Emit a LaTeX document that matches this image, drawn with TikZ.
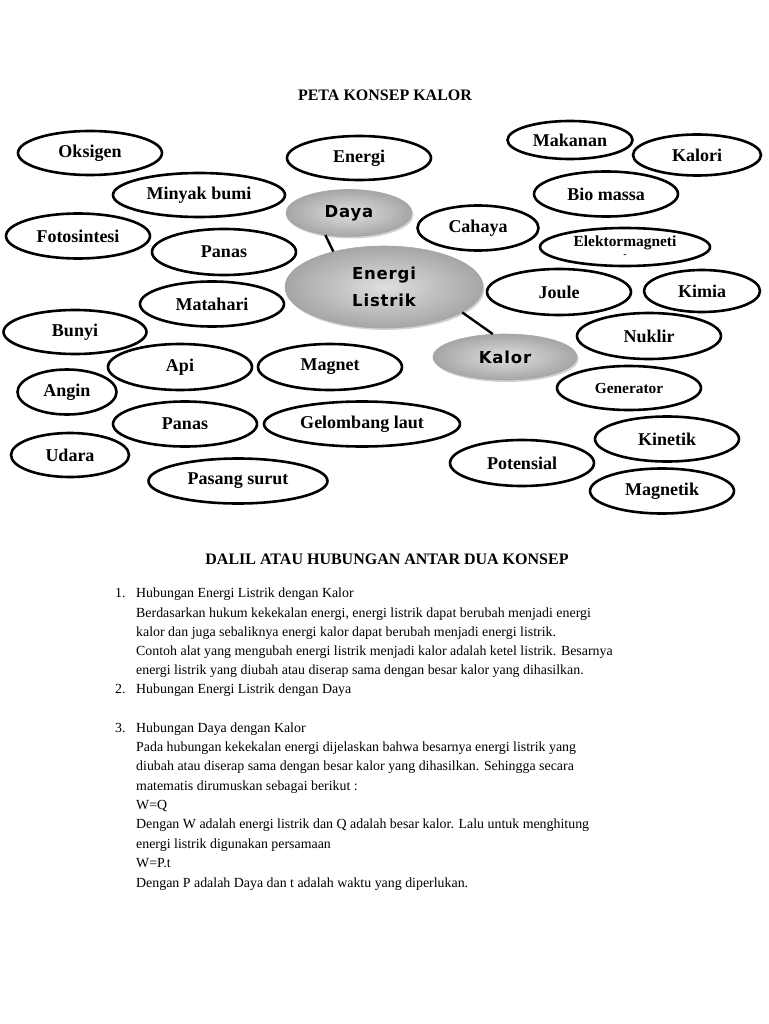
\documentclass[tikz,border=0pt]{standalone}
\usepackage{fontspec}
\setmainfont{Liberation Serif}
\newfontfamily\grayfont[LetterSpace=5]{DejaVu Sans}
\usetikzlibrary{shapes.geometric,shadows}
\begin{document}
\begin{tikzpicture}[x=1pt,y=-1pt,
  oval/.style={ellipse, draw, line width=2.6pt, inner sep=0pt, font=\fontsize{18}{20}\selectfont\bfseries},
  ovalsm/.style={oval, font=\fontsize{15.4}{12}\selectfont\bfseries, align=center},
  gnode/.style={ellipse, draw=gray!70, line width=0.6pt, inner sep=0pt,
    inner color=gray!25, outer color=gray!70,
    drop shadow={shadow xshift=1.5pt, shadow yshift=-2pt, opacity=0.35},
    font=\grayfont\bfseries\fontsize{16.5}{27}\selectfont, align=center},
  conn/.style={line width=2.4pt},
  head/.style={inner sep=0pt, anchor=base, font=\fontsize{16}{18}\selectfont\bfseries},
  body/.style={inner sep=0pt, anchor=base west, font=\fontsize{13.9}{16}\selectfont}]
\useasboundingbox (0,0) rectangle (768,1024);
\fill[white] (0,0) rectangle (768,1024);

\node[head] (title) at (385,101) {PETA KONSEP KALOR};

% left / middle ovals
\node[oval, minimum width=144, minimum height=44] (oksigen) at (90,153) {Oksigen};
\node[oval, minimum width=172, minimum height=44] (minyak) at (199,195) {Minyak bumi};
\node[oval, minimum width=144, minimum height=45] (foto) at (78,236) {Fotosintesi};
\node[oval, minimum width=144, minimum height=46] (panasa) at (224,252) {Panas};
\node[oval, minimum width=144, minimum height=44] (energi) at (359,158) {Energi};
\node[oval, minimum width=144, minimum height=45] (matahari) at (212,304) {Matahari};
\node[oval, minimum width=143, minimum height=44] (bunyi) at (75,332) {Bunyi};
\node[oval, minimum width=144, minimum height=46] (api) at (180,367) {Api};
\node[oval, minimum width=144, minimum height=46] (magnet) at (330,367) {Magnet};
\node[oval, minimum width=99, minimum height=45] (angin) at (67,392) {Angin};
\node[oval, minimum width=144, minimum height=45] (panasb) at (185,424) {Panas};
\node[oval, minimum width=196, minimum height=45] (gelombang) at (362,424) {Gelombang laut};
\node[oval, minimum width=118, minimum height=44] (udara) at (70,455) {Udara};
\node[oval, minimum width=179, minimum height=45] (pasang) at (238,481) {Pasang surut};

% right ovals
\node[oval, minimum width=125, minimum height=38] (makanan) at (570,140) {Makanan};
\node[oval, minimum width=128, minimum height=41] (kalori) at (697,155) {Kalori};
\node[oval, minimum width=144, minimum height=45] (bio) at (606,194) {Bio massa};
\node[oval, minimum width=121, minimum height=45] (cahaya) at (478,228) {Cahaya};
\node[ovalsm, minimum width=170, minimum height=38] (elektro) at (625,247) {Elektormagneti\\[-1pt]{\fontsize{10}{10}\selectfont -}};
\node[oval, minimum width=144, minimum height=46] (joule) at (559,292) {Joule};
\node[oval, minimum width=116, minimum height=42] (kimia) at (702,291) {Kimia};
\node[oval, minimum width=144, minimum height=46] (nuklir) at (649,336) {Nuklir};
\node[ovalsm, minimum width=144, minimum height=44] (generator) at (629,388) {Generator};
\node[oval, minimum width=144, minimum height=45] (kinetik) at (667,439) {Kinetik};
\node[oval, minimum width=144, minimum height=46] (potensial) at (522,463) {Potensial};
\node[oval, minimum width=144, minimum height=45] (magnetik) at (662,491) {Magnetik};

% central gray nodes
\node[gnode, minimum width=126, minimum height=47] (daya) at (349,213) {Daya};
\node[gnode, minimum width=198, minimum height=82] (listrik) at (384,287) {Energi\\Listrik};
\node[gnode, minimum width=144, minimum height=46] (kalor) at (505,357) {Kalor};
\draw[conn] (daya.-137) -- (listrik.145.5);
\draw[conn] (listrik.-18.4) -- (kalor.118.4);

% second part
\node[head] (dalil) at (387,564) {DALIL ATAU HUBUNGAN ANTAR DUA KONSEP};

\node[body] (n1) at (115,597) {1.};
\node[body] (l1) at (136,597) {Hubungan Energi Listrik dengan Kalor};
\node[body] (l2) at (136,617) {Berdasarkan hukum kekekalan energi, energi listrik dapat berubah menjadi energi};
\node[body] (l3) at (136,636) {kalor dan juga sebaliknya energi kalor dapat berubah menjadi energi listrik.};
\node[body] (l4) at (136,655) {Contoh alat yang mengubah energi listrik menjadi kalor adalah ketel listrik. Besarnya};
\node[body] (l5) at (136,674) {energi listrik yang diubah atau diserap sama dengan besar kalor yang dihasilkan.};
\node[body] (n2) at (115,693) {2.};
\node[body] (l6) at (136,693) {Hubungan Energi Listrik dengan Daya};
\node[body] (n3) at (115,732) {3.};
\node[body] (l7) at (136,732) {Hubungan Daya dengan Kalor};
\node[body] (l8) at (136,751) {Pada hubungan kekekalan energi dijelaskan bahwa besarnya energi listrik yang};
\node[body] (l9) at (136,770) {diubah atau diserap sama dengan besar kalor yang dihasilkan. Sehingga secara};
\node[body] (l10) at (136,790) {matematis dirumuskan sebagai berikut :};
\node[body] (l11) at (136,809) {W=Q};
\node[body] (l12) at (136,828) {Dengan W adalah energi listrik dan Q adalah besar kalor. Lalu untuk menghitung};
\node[body] (l13) at (136,848) {energi listrik digunakan persamaan};
\node[body] (l14) at (136,867) {W=P.t};
\node[body] (l15) at (136,887) {Dengan P adalah Daya dan t adalah waktu yang diperlukan.};
\end{tikzpicture}
\end{document}
